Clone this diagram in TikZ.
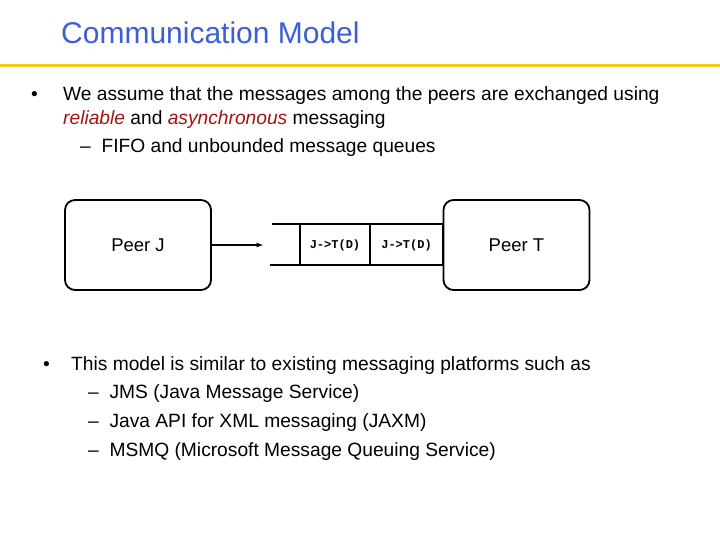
\documentclass[tikz,border=0pt]{standalone}
\usepackage{fontspec}
\setmainfont{Liberation Sans}
\setmonofont{Liberation Mono}
\usetikzlibrary{positioning}
\definecolor{titleblue}{RGB}{59,95,214}
\definecolor{rulegold}{RGB}{245,200,30}
\definecolor{darkred}{RGB}{160,20,20}
\tikzset{
  peer/.style={draw,line width=1.8pt,rounded corners=10pt,minimum width=146pt,minimum height=90pt,font=\fontsize{18.5}{22}\selectfont},
  cell/.style={draw,line width=1.8pt,minimum height=41pt,inner sep=0pt,font=\ttfamily\bfseries\fontsize{12}{14}\selectfont},
  txt/.style={anchor=base west,inner sep=0pt,font=\fontsize{19.2}{23}\selectfont}
}
\begin{document}
\begin{tikzpicture}[x=1pt,y=1pt]
\useasboundingbox (0,0) rectangle (720,-540);
\node[anchor=base west,inner sep=0pt,text=titleblue,font=\fontsize{30}{34}\selectfont] (title) at (61,-44) {Communication Model};
\draw[rulegold,line width=3pt] (0,-66) -- (720,-66);
% first bullet
\node[txt] (b1) at (31,-101) {•};
\node[txt] (l1) at (63,-101) {We assume that the messages among the peers are exchanged using};
\node[txt] (l2) at (63,-125) {\textcolor{darkred}{\textit{reliable}} and \textcolor{darkred}{\textit{asynchronous}} messaging};
\node[txt] (l3) at (80,-153) {–\ \ FIFO and unbounded message queues};
% diagram
\node[peer] (pj) at (138,-245) {Peer J};
\node[peer] (pt) at (516.5,-245) {Peer T};
\node[cell,minimum width=70pt] (c1) at (335,-245) {J->T(D)};
\node[cell,minimum width=73pt] (c2) at (406.5,-245) {J->T(D)};
\coordinate (qt) at (272,-224);
\coordinate (qb) at (270,-265);
\draw[line width=1.8pt] (qt) -- (pt.west |- qt);
\draw[line width=1.8pt] (qb) -- (pt.west |- qb);
\draw[line width=1.2pt,-latex,>=latex] (pj) -- (263,-245);
% second bullet
\node[txt] (b2) at (43,-370) {•};
\node[txt] (m1) at (71,-370) {This model is similar to existing messaging platforms such as};
\node[txt] (m2) at (88,-398) {–\ \ JMS (Java Message Service)};
\node[txt] (m3) at (88,-427) {–\ \ Java API for XML messaging (JAXM)};
\node[txt] (m4) at (88,-456) {–\ \ MSMQ (Microsoft Message Queuing Service)};
\end{tikzpicture}
\end{document}
